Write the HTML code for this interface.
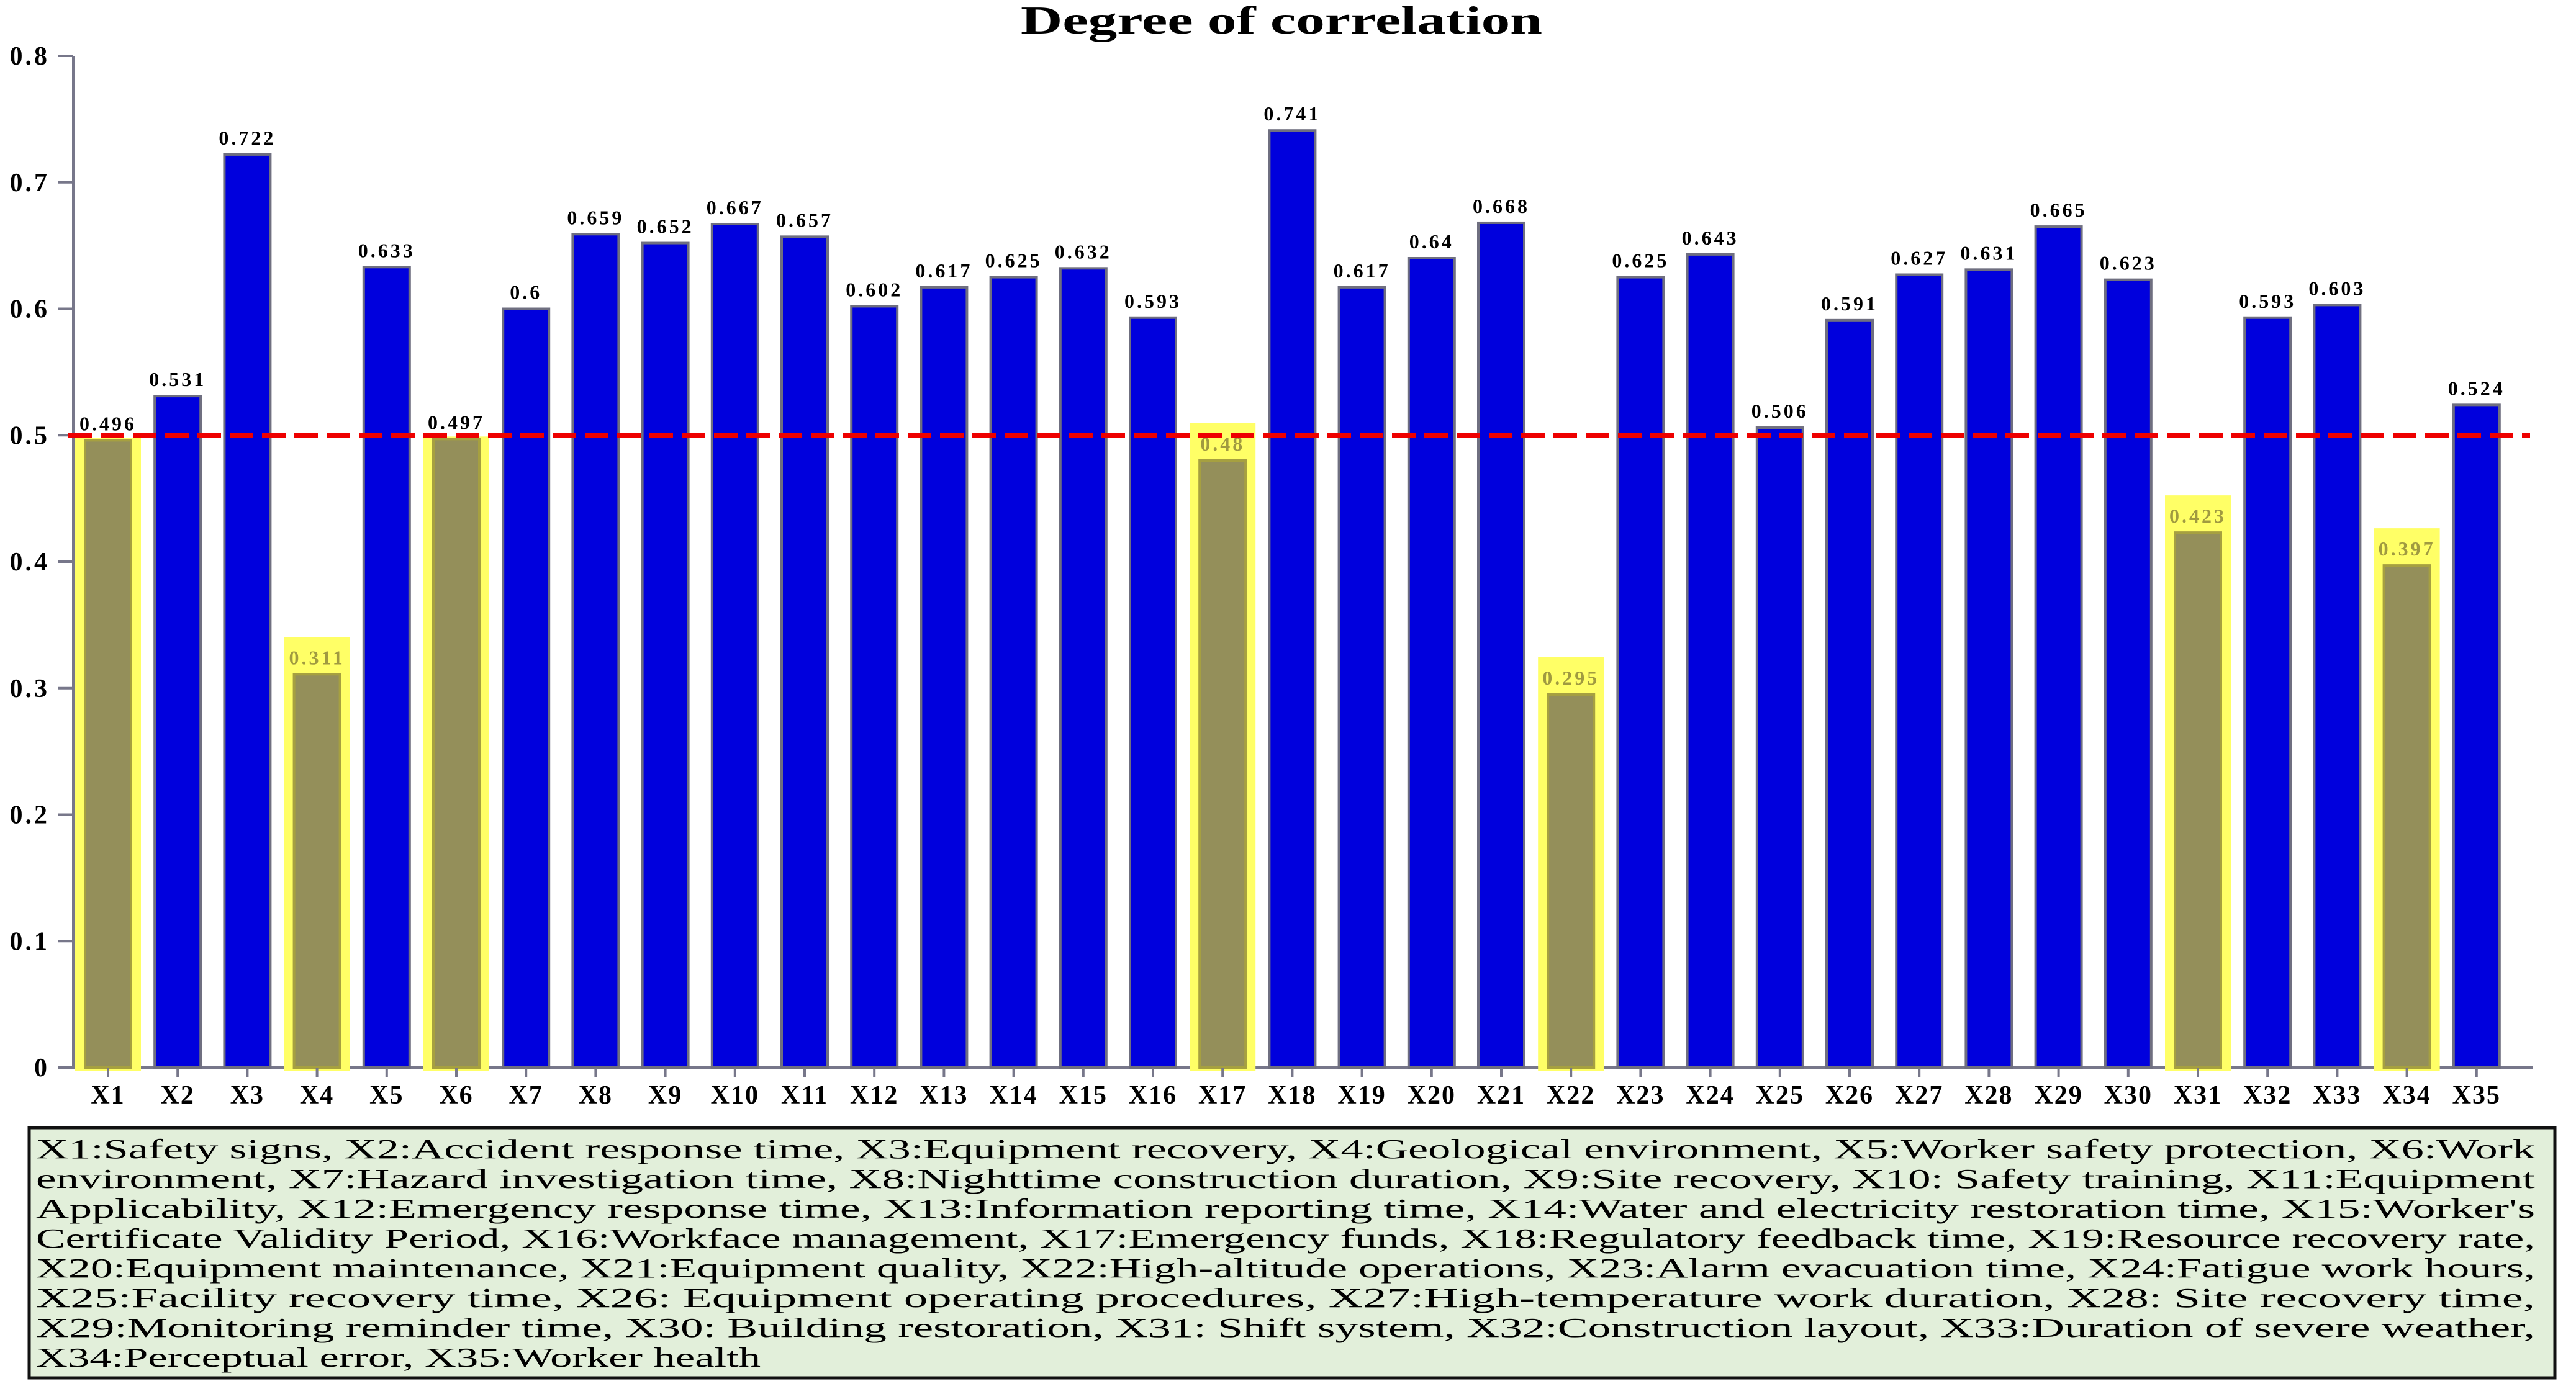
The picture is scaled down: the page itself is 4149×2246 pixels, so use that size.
<!DOCTYPE html>
<html><head><meta charset="utf-8"><style>
html,body{margin:0;padding:0;background:#fff;width:4149px;height:2246px;overflow:hidden}
svg{position:absolute;left:0;top:0}
</style></head><body>
<svg id="chart" width="4149" height="2246">
<g>
<rect x="47" y="1817" width="4068" height="403" fill="#e2efda" stroke="#111" stroke-width="5"/>
<g font-family="Liberation Serif, serif" font-size="44" fill="#000">
<text x="58" y="1866" textLength="4025" lengthAdjust="spacingAndGlyphs">X1:Safety signs, X2:Accident response time, X3:Equipment recovery, X4:Geological environment, X5:Worker safety protection, X6:Work</text>
<text x="58" y="1914" textLength="4025" lengthAdjust="spacingAndGlyphs">environment, X7:Hazard investigation time, X8:Nighttime construction duration, X9:Site recovery, X10: Safety training, X11:Equipment</text>
<text x="58" y="1962" textLength="4025" lengthAdjust="spacingAndGlyphs">Applicability, X12:Emergency response time, X13:Information reporting time, X14:Water and electricity restoration time, X15:Worker's</text>
<text x="58" y="2010" textLength="4025" lengthAdjust="spacingAndGlyphs">Certificate Validity Period, X16:Workface management, X17:Emergency funds, X18:Regulatory feedback time, X19:Resource recovery rate,</text>
<text x="58" y="2058" textLength="4025" lengthAdjust="spacingAndGlyphs">X20:Equipment maintenance, X21:Equipment quality, X22:High-altitude operations, X23:Alarm evacuation time, X24:Fatigue work hours,</text>
<text x="58" y="2106" textLength="4025" lengthAdjust="spacingAndGlyphs">X25:Facility recovery time, X26: Equipment operating procedures, X27:High-temperature work duration, X28: Site recovery time,</text>
<text x="58" y="2154" textLength="4025" lengthAdjust="spacingAndGlyphs">X29:Monitoring reminder time, X30: Building restoration, X31: Shift system, X32:Construction layout, X33:Duration of severe weather,</text>
<text x="58" y="2202" textLength="1167" lengthAdjust="spacingAndGlyphs">X34:Perceptual error, X35:Worker health</text>
</g>
</g>
</svg>
<script>
const categories = ["X1","X2","X3","X4","X5","X6","X7","X8","X9","X10","X11","X12","X13","X14","X15","X16","X17","X18","X19","X20","X21","X22","X23","X24","X25","X26","X27","X28","X29","X30","X31","X32","X33","X34","X35"];
const values = [0.496,0.531,0.722,0.311,0.633,0.497,0.6,0.659,0.652,0.667,0.657,0.602,0.617,0.625,0.632,0.593,0.48,0.741,0.617,0.64,0.668,0.295,0.625,0.643,0.506,0.591,0.627,0.631,0.665,0.623,0.423,0.593,0.603,0.397,0.524];
const yTicks = [0,0.1,0.2,0.3,0.4,0.5,0.6,0.7,0.8];
const threshold = 0.5;

const NS="http://www.w3.org/2000/svg";
const svg=document.getElementById('chart');
const X0=118, Y0=1720, YTOP=90, YMAX=0.8;
const x0c=174, step=112.2, bw=74;
const y=v=>Y0-(v/YMAX)*(Y0-YTOP);
const xc=i=>x0c+i*step;
function el(t,a){const e=document.createElementNS(NS,t);for(const k in a)e.setAttribute(k,a[k]);svg.appendChild(e);return e;}
const serif='"Liberation Serif", serif';

const title=el('text',{x:2064,y:54,'text-anchor':'middle','font-family':serif,'font-weight':'bold','font-size':64,textLength:840,lengthAdjust:'spacingAndGlyphs'});
title.textContent='Degree of correlation';



const ya=el('line',{x1:X0,y1:YTOP,x2:X0,y2:Y0,stroke:'#77778a','stroke-width':4});


const xa=el('line',{x1:X0-20,y1:Y0,x2:4080,y2:Y0,stroke:'#77778a','stroke-width':4});


yTicks.forEach(t=>{
  const tk=el('line',{x1:X0-24,y1:y(t),x2:X0,y2:y(t),stroke:'#77778a','stroke-width':4});
  
  
  const lb=el('text',{x:80,y:y(t)+14,'text-anchor':'end','font-family':serif,'font-weight':'bold','font-size':42,'letter-spacing':4});
  lb.textContent=String(t);
  
  
});

values.forEach((v,i)=>{
  const low=v<threshold;
  const cx=xc(i);
  const hi=v<0.49;
  if(low){
    const top=hi?y(v)-60:y(v)-4;
    const h=el('rect',{x:cx-bw/2-16,y:top,width:bw+32,height:Y0-top+6,fill:'#ffff66'});
    
    
  }
  const b=el('rect',{x:cx-bw/2,y:y(v),width:bw,height:Y0-y(v),fill:low?'#948f5a':'#0000dd',stroke:low?'#a6a040':'#6f6f80','stroke-width':4});
  
  
  const lb=el('text',{x:cx,y:y(v)-16,'text-anchor':'middle','font-family':serif,'font-weight':'bold','font-size':32,'letter-spacing':4,fill:hi?'#a09a40':'#000'});
  lb.textContent=String(v);
  
  
  const tk=el('line',{x1:cx,y1:Y0,x2:cx,y2:Y0+16,stroke:'#77778a','stroke-width':4});
  
  
  const xl=el('text',{x:cx,y:Y0+58,'text-anchor':'middle','font-family':serif,'font-weight':'bold','font-size':42,'letter-spacing':2});
  xl.textContent=categories[i];
  
  
});

const tl=el('line',{x1:X0-8,y1:y(threshold),x2:4075,y2:y(threshold),stroke:'#ee0000','stroke-width':8,'stroke-dasharray':'38,14'});


</script>
</body></html>
